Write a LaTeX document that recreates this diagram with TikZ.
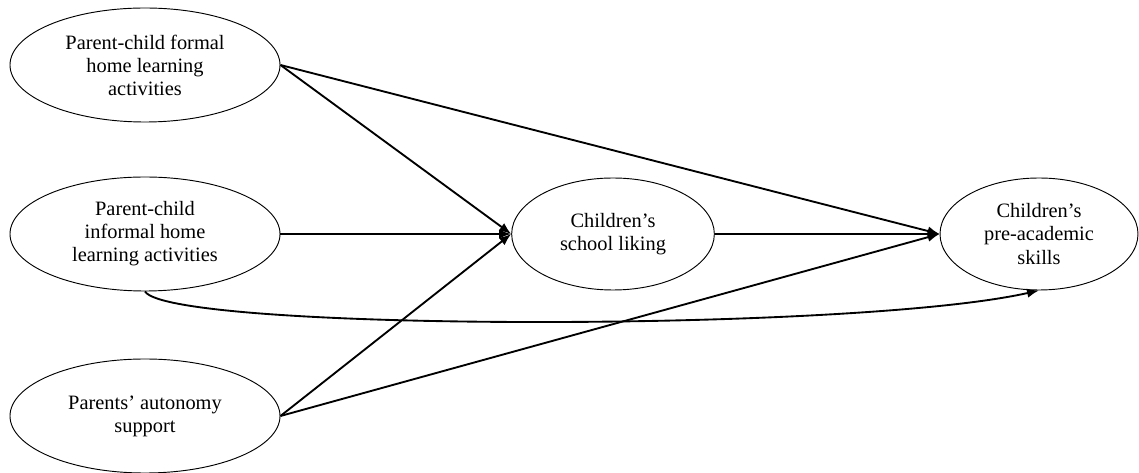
\documentclass[tikz,border=0pt]{standalone}
\usepackage{fontspec}
\setmainfont{Liberation Serif}
\usepackage{tikz}
\usetikzlibrary{arrows.meta,positioning,shapes.geometric}

\begin{document}
\begin{tikzpicture}[>={Latex[length=9pt,width=7pt]},on grid,
  construct/.style={ellipse,draw,line width=0.7pt,inner sep=0pt,align=center,
    minimum width=202.5pt,minimum height=85.5pt,
    font=\fontsize{15.3pt}{17.3pt}\selectfont}]
  \useasboundingbox (0,0) rectangle (854.25pt,-354.75pt);
  \node[construct]          (formal)   at (108.75pt,-48.75pt)  {Parent-child formal\\home learning\\activities};
  \node[construct]          (informal) [below =126.75pt of formal]  {Parent-child\\informal home\\learning activities};
  \node[construct]          (autonomy) [below =136.5pt of informal] {Parents’ autonomy\\support};
  \node[construct,minimum width=152pt,minimum height=84pt]   (liking) [right =351pt of informal] {Children’s\\school liking};
  \node[construct,minimum width=148.5pt,minimum height=84pt] (skills) [right =319.5pt of liking]   {Children’s\\pre-academic\\skills};

\tikzset{mystyle/.style={->,line width=1.4pt}}
\path (formal.east)   edge [mystyle] (liking.west)
      (formal.east)   edge [mystyle] (skills.west)
      (informal.east) edge [mystyle] (liking.west)
      (autonomy.east) edge [mystyle] (liking.west)
      (autonomy.east) edge [mystyle] (skills.west)
      (liking.east)   edge [mystyle] (skills.west);
\draw [mystyle] (informal.south) .. controls +(18.75pt,-30pt) and +(-140pt,-31.5pt) .. (skills.south);
\end{tikzpicture}
\end{document}
